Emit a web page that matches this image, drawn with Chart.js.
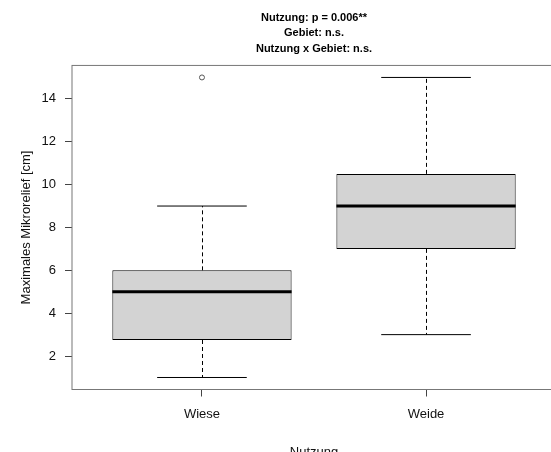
<!DOCTYPE html>
<html><head><meta charset="utf-8">
<script src="https://cdn.jsdelivr.net/npm/chart.js@4"></script>
<style>html,body{margin:0;padding:0;overflow:hidden;background:#fff}canvas{display:block}</style>
</head><body>
<canvas id="c" width="600" height="480"></canvas>
<script>
const categories = ['Wiese', 'Weide'];
const whiskerLow = [1, 3];
const q1 = [2.75, 7];
const median = [5, 9];
const q3 = [6, 10.5];
const whiskerHigh = [9, 15];
const outliers = [[15], []];
const yTicks = [2, 4, 6, 8, 10, 12, 14];
const titleLines = ['Nutzung: p = 0.006**', 'Gebiet: n.s.', 'Nutzung x Gebiet: n.s.'];
const yTitle = 'Maximales Mikrorelief [cm]';
const xTitle = 'Nutzung';

const FONT = 'Liberation Sans, Arial, Helvetica, sans-serif';
const allVals = whiskerLow.concat(whiskerHigh, ...outliers);
const dMin = Math.min(...allVals), dMax = Math.max(...allVals);
const yMin = dMin - 0.04 * (dMax - dMin), yMax = dMax + 0.04 * (dMax - dMin);
const xMin = 0.5 - 0.04 * categories.length, xMax = categories.length + 0.5 + 0.04 * categories.length;

const framePlugin = {
  id: 'frame',
  beforeDatasetsDraw(chart) {
    const {ctx, chartArea: a} = chart;
    ctx.save();
    ctx.strokeStyle = '#777';
    ctx.lineWidth = 1;
    ctx.strokeRect(a.left, a.top, a.right - a.left, a.bottom - a.top);
    ctx.restore();
  }
};

const whiskerPlugin = {
  id: 'whiskers',
  afterDatasetsDraw(chart) {
    const {ctx, scales: {y}} = chart;
    const meta = chart.getDatasetMeta(0);
    ctx.save();
    categories.forEach((c, i) => {
      const bar = meta.data[i];
      const cx = Math.round(bar.x) + 0.5;
      const half = bar.width / 2;
      const cap = half / 2;
      const pLo = y.getPixelForValue(whiskerLow[i]);
      const pQ1 = y.getPixelForValue(q1[i]);
      const pMed = y.getPixelForValue(median[i]);
      const pQ3 = y.getPixelForValue(q3[i]);
      const pHi = y.getPixelForValue(whiskerHigh[i]);
      ctx.strokeStyle = '#000';
      ctx.lineWidth = 1;
      ctx.setLineDash([4, 3]);
      ctx.beginPath();
      ctx.moveTo(cx, pQ3); ctx.lineTo(cx, pHi);
      ctx.moveTo(cx, pQ1); ctx.lineTo(cx, pLo);
      ctx.stroke();
      ctx.setLineDash([]);
      ctx.beginPath();
      ctx.moveTo(bar.x - cap, pHi); ctx.lineTo(bar.x + cap, pHi);
      ctx.moveTo(bar.x - cap, pLo); ctx.lineTo(bar.x + cap, pLo);
      ctx.stroke();
      ctx.lineWidth = 3;
      ctx.beginPath();
      ctx.moveTo(bar.x - half, pMed); ctx.lineTo(bar.x + half, pMed);
      ctx.stroke();
    });
    ctx.restore();
  }
};

const outlierPoints = [];
outliers.forEach((arr, i) => arr.forEach(v => outlierPoints.push({x: i + 1, y: v})));

new Chart(document.getElementById('c'), {
  type: 'bar',
  data: {
    datasets: [{
      type: 'bar',
      data: categories.map((c, i) => ({x: i + 1, y: [q1[i], q3[i]]})),
      backgroundColor: '#d3d3d3',
      borderColor: '#000',
      borderWidth: 1,
      borderSkipped: false,
      barPercentage: 1,
      categoryPercentage: 0.8
    }, {
      type: 'scatter',
      data: outlierPoints,
      pointRadius: 2.5,
      pointBorderColor: '#555',
      pointBackgroundColor: 'rgba(0,0,0,0)',
      pointBorderWidth: 1
    }]
  },
  options: {
    responsive: false,
    animation: false,
    layout: {padding: {left: 0, right: 44, top: 0, bottom: 0}},
    plugins: {
      legend: {display: false},
      tooltip: {enabled: false},
      title: {
        display: true, text: titleLines, fullSize: false, color: '#000',
        font: {family: FONT, size: 11, weight: 'bold', lineHeight: 1.38},
        padding: {top: 10.6, bottom: 9.3}
      }
    },
    scales: {
      x: {
        type: 'linear', min: xMin, max: xMax, offset: false,
        afterBuildTicks: s => { s.ticks = categories.map((c, i) => ({value: i + 1})); },
        afterFit: s => { s.height = 90.5; },
        ticks: {callback: v => categories[v - 1], font: {family: FONT, size: 13}, color: '#111', padding: 10, maxRotation: 0, autoSkip: false},
        grid: {offset: false, drawOnChartArea: false, drawTicks: true, tickLength: 7, tickColor: '#444'},
        border: {display: false},
        title: {display: true, text: xTitle, font: {family: FONT, size: 13}, color: '#111', padding: {top: 0, bottom: 19.4}}
      },
      y: {
        type: 'linear', min: yMin, max: yMax,
        afterBuildTicks: s => { s.ticks = yTicks.map(v => ({value: v})); },
        afterFit: s => { s.width = 72; },
        ticks: {font: {family: FONT, size: 13}, color: '#111', padding: 9},
        grid: {drawOnChartArea: false, drawTicks: true, tickLength: 7, tickColor: '#444'},
        border: {display: false},
        title: {display: true, text: yTitle, font: {family: FONT, size: 13}, color: '#111', padding: {top: 18.2, bottom: 0}}
      }
    }
  },
  plugins: [framePlugin, whiskerPlugin]
});
</script>
</body></html>
